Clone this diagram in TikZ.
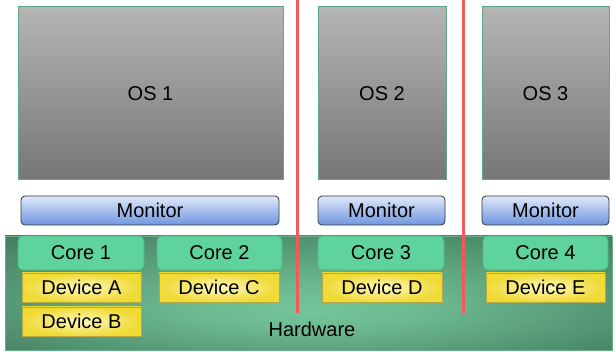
\documentclass[tikz,border=0pt]{standalone}
\usepackage{fontspec}
\setmainfont{Liberation Sans}
\definecolor{osTop}{HTML}{B5B5B5}
\definecolor{osBot}{HTML}{767676}
\definecolor{osLine}{HTML}{5FA880}
\definecolor{monTop}{HTML}{E0E9FB}
\definecolor{monBot}{HTML}{6E95DF}
\definecolor{coreFill}{HTML}{5ED39B}
\definecolor{coreLine}{HTML}{52B886}
\definecolor{devIn}{HTML}{FDF8BC}
\definecolor{devOut}{HTML}{F0DA36}
\definecolor{devLine}{HTML}{B5A945}
\definecolor{hwIn}{HTML}{74C59A}
\definecolor{hwOut}{HTML}{3C7256}
\definecolor{hwLine}{HTML}{6AAE87}
\definecolor{sepRed}{HTML}{F25A5A}
\pgfdeclareradialshading{hwshade}{\pgfpoint{0bp}{-8bp}}{color(0bp)=(hwIn); color(10bp)=(hwIn!85!hwOut); color(42bp)=(hwOut); color(50bp)=(hwOut)}

\begin{document}
\begin{tikzpicture}[x=1pt,y=-1pt,
  every node/.style={font=\fontsize{20}{23}\selectfont, inner sep=0pt},
  osbox/.style={draw=osLine, line width=1pt, top color=osTop, bottom color=osBot, minimum height=173pt},
  monbox/.style={draw=black!80, line width=0.8pt, rounded corners=4pt, top color=monTop, bottom color=monBot, minimum height=29pt},
  corebox/.style={draw=coreLine, line width=0.6pt, fill=coreFill, rounded corners=5pt, minimum height=34pt},
  devbox/.style={draw=devLine, line width=0.6pt, inner color=devIn, outer color=devOut, minimum height=29pt},
  sep/.style={draw=sepRed, line width=3pt}]
\useasboundingbox (0,0) rectangle (616,352);

% hardware
\draw[hwLine, line width=0.8pt, shading=hwshade] (5,236) rectangle (612,350);
\node (hw) at (312,329) {Hardware};

% guests
\node[osbox, minimum width=265pt] (os1) at (150.5,93.5) {OS 1};
\node[osbox, minimum width=128pt] (os2) at (382,93.5) {OS 2};
\node[osbox, minimum width=127pt] (os3) at (545.5,93.5) {OS 3};

\node[monbox, minimum width=258pt] (mon1) at (150,210.5) {Monitor};
\node[monbox, minimum width=127pt] (mon2) at (381.5,210.5) {Monitor};
\node[monbox, minimum width=127pt] (mon3) at (545.5,210.5) {Monitor};

% cores and devices
\node[corebox, minimum width=126pt] (core1) at (81,253) {Core 1};
\node[corebox, minimum width=125pt] (core2) at (219.5,253) {Core 2};
\node[corebox, minimum width=126pt] (core3) at (381,253) {Core 3};
\node[corebox, minimum width=125pt] (core4) at (545.5,253) {Core 4};

\node[devbox, minimum width=119pt] (devA) at (81.5,287.5) {Device A};
\node[devbox, minimum width=119pt] (devB) at (81.5,321.5) {Device B};
\node[devbox, minimum width=120pt] (devC) at (219,287.5) {Device C};
\node[devbox, minimum width=120pt] (devD) at (382,287.5) {Device D};
\node[devbox, minimum width=119pt] (devE) at (545.5,287.5) {Device E};

% partitions
\draw[sep] (297.5,0) -- (297.5,313);
\draw[sep] (463,0) -- (463,313);
\end{tikzpicture}
\end{document}
